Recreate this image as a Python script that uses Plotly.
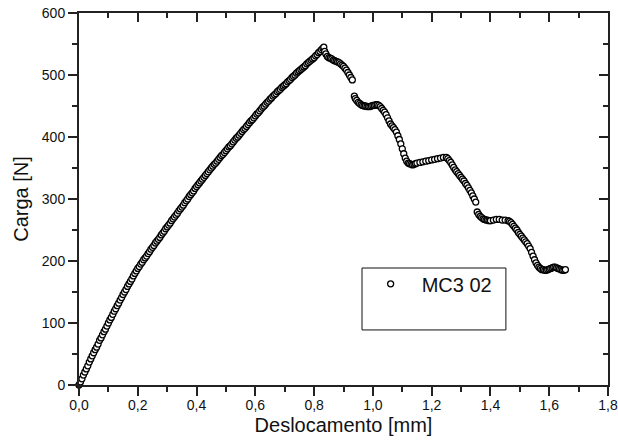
import plotly.graph_objects as go

# Displacement [mm] and load [N]
disp_rise = [0.000, 0.005, 0.010, 0.015, 0.020, 0.025, 0.030, 0.035, 0.040, 0.045,
             0.050, 0.055, 0.060, 0.065, 0.070, 0.075, 0.080, 0.085, 0.090, 0.095,
             0.100, 0.105, 0.110, 0.115, 0.120, 0.125, 0.130, 0.135, 0.140, 0.145,
             0.150, 0.155, 0.160, 0.165, 0.170, 0.175, 0.180, 0.185, 0.190, 0.195,
             0.200, 0.205, 0.210, 0.215, 0.220, 0.225, 0.230, 0.235, 0.240, 0.245,
             0.250, 0.255, 0.260, 0.265, 0.270, 0.275, 0.280, 0.285, 0.290, 0.295,
             0.300, 0.305, 0.310, 0.315, 0.320, 0.325, 0.330, 0.335, 0.340, 0.345,
             0.350, 0.355, 0.360, 0.365, 0.370, 0.375, 0.380, 0.385, 0.390, 0.395,
             0.400, 0.405, 0.410, 0.415, 0.420, 0.425, 0.430, 0.435, 0.440, 0.445,
             0.450, 0.455, 0.460, 0.465, 0.470, 0.475, 0.480, 0.485, 0.490, 0.495,
             0.500, 0.505, 0.510, 0.515, 0.520, 0.525, 0.530, 0.535, 0.540, 0.545,
             0.550, 0.555, 0.560, 0.565, 0.570, 0.575, 0.580, 0.585, 0.590, 0.595,
             0.600, 0.605, 0.610, 0.615, 0.620, 0.625, 0.630, 0.635, 0.640, 0.645,
             0.650, 0.655, 0.660, 0.665, 0.670, 0.675, 0.680, 0.685, 0.690, 0.695,
             0.700, 0.705, 0.710, 0.715, 0.720, 0.725, 0.730, 0.735, 0.740, 0.745,
             0.750, 0.755, 0.760, 0.765, 0.770, 0.775, 0.780, 0.785, 0.790, 0.795,
             0.800, 0.805, 0.810, 0.815, 0.820, 0.825, 0.830]
load_rise = [0, 5, 10, 16, 21, 26, 31, 37, 42, 47,
             52, 57, 61, 66, 72, 76, 81, 86, 90, 95,
             100, 105, 109, 114, 119, 123, 128, 132, 137, 141,
             146, 150, 154, 159, 163, 167, 171, 176, 180, 184,
             188, 191, 195, 198, 202, 205, 208, 212, 215, 219,
             222, 225, 229, 232, 235, 238, 242, 245, 248, 252,
             255, 258, 261, 265, 268, 271, 274, 277, 281, 284,
             287, 290, 294, 297, 300, 304, 307, 310, 313, 317,
             320, 323, 326, 329, 332, 335, 338, 341, 344, 347,
             350, 353, 356, 358, 361, 364, 367, 370, 372, 375,
             378, 381, 384, 386, 389, 392, 395, 398, 400, 403,
             406, 409, 412, 414, 417, 420, 423, 426, 428, 431,
             434, 437, 439, 442, 445, 448, 450, 453, 456, 458,
             461, 463, 466, 468, 470, 473, 475, 477, 480, 482,
             484, 486, 489, 491, 493, 496, 498, 500, 503, 505,
             507, 509, 511, 513, 515, 518, 520, 522, 524, 526,
             528, 531, 533, 536, 538, 541, 543]

disp_fall = [0.833, 0.836, 0.840, 0.845, 0.850, 0.855, 0.860, 0.865, 0.870, 0.875,
             0.880, 0.885, 0.890, 0.895, 0.900, 0.905, 0.910, 0.915, 0.920, 0.925,
             0.930,
             0.937, 0.940, 0.945, 0.950, 0.955, 0.960, 0.965, 0.970, 0.975, 0.980,
             0.985, 0.990, 0.995, 1.000, 1.005, 1.010, 1.015, 1.020, 1.025, 1.030,
             1.035, 1.040, 1.045, 1.050, 1.055, 1.060, 1.065, 1.070, 1.075, 1.080,
             1.085, 1.090, 1.095, 1.100, 1.105, 1.110, 1.115, 1.120, 1.125, 1.130,
             1.135, 1.140, 1.145, 1.150, 1.160, 1.170, 1.180, 1.190, 1.200, 1.210,
             1.220, 1.230, 1.240, 1.250, 1.255, 1.260, 1.265, 1.270, 1.275, 1.280,
             1.285, 1.290, 1.295, 1.300, 1.305, 1.310, 1.315, 1.320, 1.325, 1.330,
             1.335, 1.340, 1.345, 1.350,
             1.355, 1.360, 1.365, 1.370, 1.375, 1.380, 1.385, 1.390, 1.395, 1.400,
             1.410, 1.420, 1.430, 1.440, 1.450, 1.460, 1.465, 1.470, 1.475, 1.480,
             1.485, 1.490, 1.495, 1.500, 1.505, 1.510, 1.515, 1.520, 1.525, 1.530,
             1.535, 1.540, 1.545, 1.550, 1.555, 1.560, 1.565, 1.570, 1.575, 1.580,
             1.585, 1.590, 1.595, 1.600, 1.605, 1.610, 1.615, 1.620, 1.625, 1.630,
             1.635, 1.640, 1.645, 1.650, 1.655]
load_fall = [545, 538, 534, 530, 528, 527, 526, 524, 523, 522,
             521, 520, 518, 516, 514, 511, 508, 504, 500, 496,
             492,
             466, 462, 459, 456, 454, 452, 451, 450, 450, 449,
             449, 449, 450, 451, 451, 452, 452, 451, 449, 446,
             443, 440, 436, 431, 426, 421, 418, 415, 412, 408,
             402, 396, 389, 381, 373, 366, 361, 358, 357, 356,
             355, 356, 357, 358, 359, 360, 361, 362, 363, 364,
             365, 366, 367, 367, 365, 362, 359, 355, 351, 347,
             344, 341, 338, 335, 332, 329, 325, 322, 318, 314,
             310, 305, 300, 295,
             279, 275, 272, 270, 268, 267, 266, 266, 265, 265,
             266, 267, 267, 266, 266, 265, 264, 262, 259, 256,
             253, 250, 246, 243, 240, 237, 234, 231, 228, 224,
             220, 214, 208, 202, 197, 193, 190, 188, 186, 186,
             185, 185, 186, 187, 188, 189, 190, 190, 189, 188,
             187, 186, 185, 185, 186]

series_name = "MC3 02"
x_title = "Deslocamento [mm]"
y_title = "Carga [N]"

disp = disp_rise + disp_fall
load = load_rise + load_fall

fig = go.Figure()
fig.add_trace(go.Scatter(
    x=disp, y=load, mode="markers", name=series_name,
    cliponaxis=False,
    marker=dict(symbol="circle", size=6, color="white",
                line=dict(color="#000000", width=1.3)),
))
# helper trace to display mirrored (inside-tick) top/right axes
fig.add_trace(go.Scatter(x=[None], y=[None], xaxis="x2", yaxis="y2",
                         showlegend=False, hoverinfo="skip"))

FONT = "Liberation Sans, Arial, sans-serif"
axis_font = dict(family=FONT, size=14, color="#111111")
title_font = dict(family=FONT, size=20, color="#111111")
TK = "#222222"

fig.update_layout(
    width=618, height=443,
    margin=dict(l=79, r=10, t=13, b=58, autoexpand=False),
    paper_bgcolor="white", plot_bgcolor="white",
    separators=",.",
    showlegend=True,
    legend=dict(x=0.5305, y=0.272, xanchor="left", yanchor="middle",
                itemwidth=52,
                bgcolor="rgba(0,0,0,0)", borderwidth=0,
                font=dict(family=FONT, size=20, color="#111111")),
    xaxis=dict(range=[0, 1.8], dtick=0.2, tick0=0, tickformat=".1f",
               automargin=False, ticklabeloverflow="allow", ticklabelstandoff=-3,
               showgrid=False, zeroline=False,
               showline=True, linecolor=TK, linewidth=2, mirror=True,
               ticks="outside", ticklen=9, tickwidth=1.5, tickcolor=TK,
               minor=dict(dtick=0.1, ticks="outside", ticklen=5, tickwidth=1.5, tickcolor=TK),
               tickfont=axis_font,
               title=dict(text=x_title, font=title_font, standoff=6)),
    yaxis=dict(range=[0, 600], dtick=100, tick0=0,
               automargin=False, ticklabeloverflow="allow",
               showgrid=False, zeroline=False,
               showline=True, linecolor=TK, linewidth=2, mirror=True,
               ticks="outside", ticklen=9, tickwidth=1.5, tickcolor=TK,
               minor=dict(dtick=50, ticks="outside", ticklen=5, tickwidth=1.5, tickcolor=TK),
               tickfont=axis_font,
               title=dict(text=y_title, font=title_font, standoff=8)),
    xaxis2=dict(range=[0, 1.8], dtick=0.2, tick0=0, overlaying="x", side="top",
                anchor="y2", automargin=False, showgrid=False, zeroline=False, showline=False,
                showticklabels=False,
                ticks="inside", ticklen=9, tickwidth=1.5, tickcolor=TK,
                minor=dict(dtick=0.1, ticks="inside", ticklen=5, tickwidth=1.5, tickcolor=TK)),
    yaxis2=dict(range=[0, 600], dtick=100, tick0=0, overlaying="y", side="right",
                anchor="x2", automargin=False, showgrid=False, zeroline=False, showline=False,
                showticklabels=False,
                ticks="inside", ticklen=9, tickwidth=1.5, tickcolor=TK,
                minor=dict(dtick=50, ticks="inside", ticklen=5, tickwidth=1.5, tickcolor=TK)),
    shapes=[dict(type="rect", xref="paper", yref="paper",
                 x0=0.535, x1=0.807, y0=0.148, y1=0.3145,
                 line=dict(color="#111111", width=1), fillcolor="rgba(0,0,0,0)")],
)

# remove the default 8 px page margin so the figure fills the window exactly
fig.write_html("out.html",
               config={"displayModeBar": False},
               post_script="document.body.style.margin='0px';")
